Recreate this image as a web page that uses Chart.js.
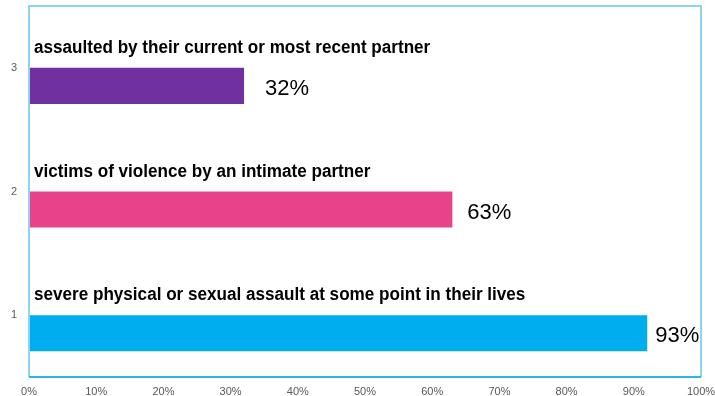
<!DOCTYPE html>
<html>
<head>
<meta charset="utf-8">
<style>
  html, body { margin: 0; padding: 0; background: #fff; }
  #wrap { width: 715px; height: 396px; }
</style>
</head>
<body>
<div id="wrap"><canvas id="myChart" width="715" height="396"></canvas></div>
<script src="https://cdn.jsdelivr.net/npm/chart.js"></script>
<script>
  // values
  const categories = ["3", "2", "1"];
  const descriptions = [
    "assaulted by their current or most recent partner",
    "victims of violence by an intimate partner",
    "severe physical or sexual assault at some point in their lives",
  ];
  const barValues = [32, 63, 92];
  const valueLabels = ["32%", "63%", "93%"];
  const barColors = ["#7030a0", "#e8428a", "#00aeef"];
  const xTicks = [0, 10, 20, 30, 40, 50, 60, 70, 80, 90, 100];

  const labelsPlugin = {
    id: "barTexts",
    afterDatasetsDraw: (chart, args, opts) => {
      const { ctx, chartArea } = chart;
      const meta = chart.getDatasetMeta(1);
      ctx.save();
      meta.data.forEach((bar, i) => {
        const top = bar.y - bar.height / 2;
        ctx.fillStyle = "#000";
        ctx.textAlign = "left";
        ctx.textBaseline = "alphabetic";
        // bold headline, squeezed a little
        ctx.save();
        ctx.translate(chartArea.left + 5, top - 15);
        ctx.scale(0.95, 1);
        ctx.font = "bold 18px 'Liberation Sans', Arial, sans-serif";
        ctx.fillText(descriptions[i], 0, 0);
        ctx.restore();
        ctx.font = "22px 'Liberation Sans', Arial, sans-serif";
        ctx.textBaseline = "middle";
        ctx.fillText(valueLabels[i], bar.x + opts.gaps[i], bar.y + 3);
      });
      ctx.restore();
    },
    afterDraw: (chart) => {
      const { ctx, chartArea: a } = chart;
      ctx.save();
      ctx.lineWidth = 2;
      ctx.strokeStyle = "#8dd4f3";
      ctx.beginPath();
      ctx.moveTo(a.left, a.bottom);
      ctx.lineTo(a.left, a.top);
      ctx.lineTo(a.right, a.top);
      ctx.lineTo(a.right, a.bottom);
      ctx.stroke();
      ctx.strokeStyle = "#2db3ec";
      ctx.beginPath();
      ctx.moveTo(a.left, a.bottom);
      ctx.lineTo(a.right, a.bottom);
      ctx.stroke();
      ctx.restore();
    },
  };

  new Chart(document.getElementById("myChart"), {
    type: "bar",
    data: {
      labels: categories,
      datasets: [
        { data: categories.map(() => null), backgroundColor: "rgba(0,0,0,0)" },
        { data: barValues, backgroundColor: barColors },
      ],
    },
    options: {
      indexAxis: "y",
      responsive: false,
      animation: false,
      categoryPercentage: 0.583,
      barPercentage: 1,
      layout: { padding: { top: 6, right: 14, left: 0, bottom: 0 } },
      scales: {
        x: {
          min: 0,
          max: 100,
          afterBuildTicks: (s) => { s.ticks = xTicks.map((v) => ({ value: v })); },
          afterFit: (s) => { s.height = 19; s.paddingLeft = 0; s.paddingRight = 0; },
          grid: { display: false, drawTicks: false },
          border: { display: false },
          ticks: {
            padding: 8,
            color: "#595959",
            font: { family: "'Liberation Sans', Arial, sans-serif", size: 11 },
            callback: (v) => v + "%",
          },
        },
        y: {
          afterFit: (s) => { s.width = 29; s.paddingTop = 0; s.paddingBottom = 0; },
          grid: { display: false, drawTicks: false },
          border: { display: false },
          ticks: {
            padding: 12,
            color: "#595959",
            font: { family: "'Liberation Sans', Arial, sans-serif", size: 11 },
          },
        },
      },
      plugins: {
        legend: { display: false },
        tooltip: { enabled: false },
        barTexts: { gaps: [21, 15, 8] },
      },
    },
    plugins: [labelsPlugin],
  });
</script>
</body>
</html>
